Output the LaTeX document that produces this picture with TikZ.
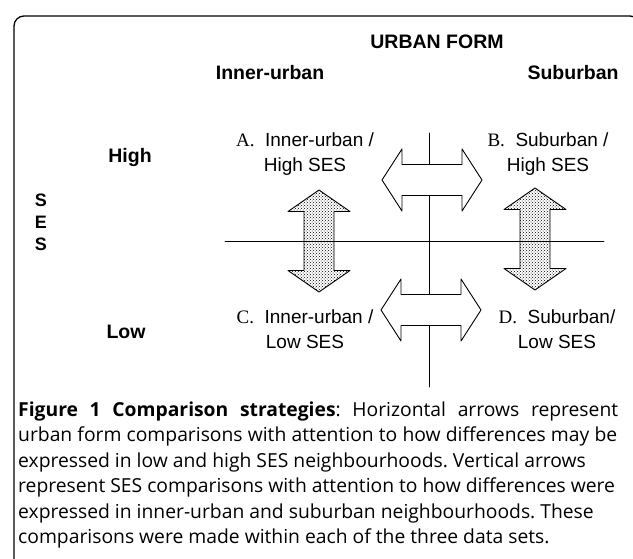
\documentclass[tikz,border=0pt]{standalone}
\usepackage{fontspec}
\setmainfont{Liberation Sans}
\newfontfamily\letterfont{Liberation Serif}
\newfontfamily\capfont{Open Sans}
\usetikzlibrary{patterns}
\frenchspacing

\begin{document}
\begin{tikzpicture}[line cap=round,line join=round,x=1pt,y=-1pt,
  heading/.style={font=\fontsize{19.5}{22}\selectfont\bfseries,inner sep=0pt},
  cell/.style={font=\fontsize{19}{25}\selectfont,align=center,inner sep=0pt},
  capline/.style={font=\capfont\fontsize{19.3}{20}\selectfont,anchor=west,inner sep=0pt},
  hollow/.style={draw=black,fill=white,line width=0.9pt},
  dotty/.style={draw=black,pattern=crosshatch dots,pattern color=black,line width=0.9pt}]
\useasboundingbox (0,0) rectangle (633,558);
\clip (0,0) rectangle (633,558);
%kehys
\draw[line width=1.3pt,rounded corners=10pt] (14,600) -- (14,16) -- (640,16) -- (640,600);

%akselit
\coordinate (vtop) at (429,133);
\coordinate (vbot) at (429,387);
\coordinate (hleft) at (225,241);
\coordinate (hright) at (604,241);
\draw[line width=0.9pt] (vtop) -- (vbot);
\draw[line width=0.9pt] (hleft) -- (hright);

%vaakanuolet
\foreach \cx/\cy in {432/180,431/310}
{
\draw[hollow,shift={(\cx,\cy)}] (-50,0) -- (-30,-31) -- (-30,-15.5) -- (30,-15.5) -- (30,-31) -- (50,0)
  -- (30,31) -- (30,15.5) -- (-30,15.5) -- (-30,31) -- cycle;
}
%pystynuolet
\foreach \cx/\cy in {319/241,535/239}
{
\draw[dotty,shift={(\cx,\cy)}] (0,-51) -- (31,-29.5) -- (15,-29.5) -- (15,29.5) -- (31,29.5) -- (0,51)
  -- (-31,29.5) -- (-15,29.5) -- (-15,-29.5) -- (-31,-29.5) -- cycle;
}

%otsikot
\node[heading] (urban) at (437,42) {URBAN FORM};
\node[heading] (inner) at (270,73) {Inner-urban};
\node[heading] (suburb) at (573,73) {Suburban};
\node[heading] (high) at (130,157) {High};
\node[heading] (low) at (126,332) {Low};
\node[heading,font=\fontsize{18}{22}\selectfont\bfseries,align=center] (ses) at (41,222) {S\\E\\S};

%solut
\node[cell] (qa) at (305,154) {{\letterfont A.}\ \ Inner-urban /\\High SES};
\node[cell] (qb) at (548,154) {{\letterfont B.}\ \ Suburban /\\High SES};
\node[cell] (qc) at (305,329) {{\letterfont C.}\ \ Inner-urban /\\Low SES};
\node[cell] (qd) at (557,329) {{\letterfont D.}\ \ Suburban/\\Low SES};

%kuvateksti
\node[capline] (cap1) at (18,411) {\makebox[600pt][s]{\textbf{Figure 1 Comparison strategies}: Horizontal arrows represent}};
\node[capline] (cap2) at (18,436.5) {\makebox[599pt][s]{urban form comparisons with attention to how differences may be}};
\node[capline] (cap3) at (18,462) {expressed in low and high SES neighbourhoods. Vertical arrows};
\node[capline] (cap4) at (18,487.5) {represent SES comparisons with attention to how differences were};
\node[capline] (cap5) at (18,513) {expressed in inner-urban and suburban neighbourhoods. These};
\node[capline] (cap6) at (18,538.5) {comparisons were made within each of the three data sets.};
\end{tikzpicture}
\end{document}
